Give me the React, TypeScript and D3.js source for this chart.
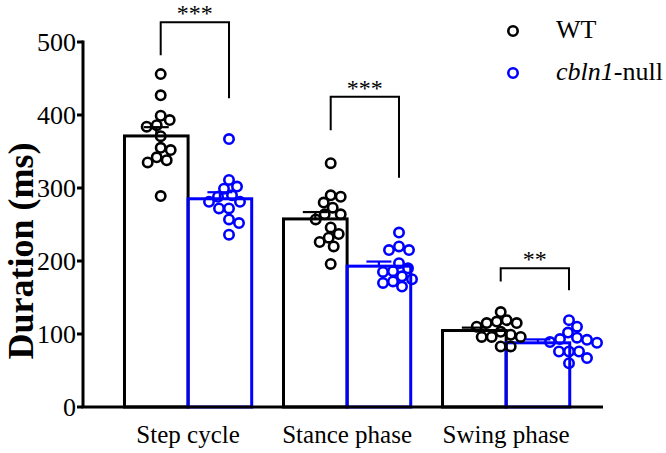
import React from "react";
import * as d3 from "d3";

const categories = ["Step cycle", "Stance phase", "Swing phase"];
const groups = ["WT", "cbln1-null"];
const groupColors = ["#000000", "#0000ff"];

// individual animals (ms)
const wtStep = [456, 427, 399, 393, 386, 384, 371, 355, 352, 342, 338, 335, 289];
const koStep = [367, 311, 302, 299, 290, 288, 281, 281, 272, 272, 257, 252, 236];
const wtStance = [334, 290, 288, 280, 273, 264, 264, 257, 246, 237, 232, 226, 220, 196];
const koStance = [239, 220, 215, 215, 197, 190, 186, 185, 179, 175, 172, 170, 165];
const wtSwing = [130, 119, 117, 115, 115, 110, 103, 99, 96, 96, 96, 83, 83];
const koSwing = [119, 110, 102, 95, 93, 92, 89, 88, 76, 76, 76, 67, 60];

const seriesData = [
  [wtStep, koStep],
  [wtStance, koStance],
  [wtSwing, koSwing],
];

const yTicks = [0, 100, 200, 300, 400, 500];
const sigLabels = ["***", "***", "**"];
const bracketTop = [527, 425, 190];
const bracketLeftEnd = [482, 379, 172];
const bracketRightEnd = [423, 314, 160];

const W = 666;
const H = 453;
const FONT = "'Liberation Serif', 'Times New Roman', serif";

function beeswarm(values: number[], y: (v: number) => number, minDist: number) {
  const order = values.map((v, i) => ({ v, i })).sort((a, b) => b.v - a.v);
  const placed: { x: number; y: number; v: number }[] = [];
  for (const o of order) {
    const py = y(o.v);
    let chosen = 0;
    for (let k = 0; k < 200; k++) {
      const off = k === 0 ? 0 : (k % 2 === 1 ? 1 : -1) * Math.ceil(k / 2);
      const ok = placed.every((p) => Math.hypot(p.x - off, p.y - py) >= minDist);
      if (ok) {
        chosen = off;
        break;
      }
    }
    placed.push({ x: chosen, y: py, v: o.v });
  }
  return placed;
}

export default function App() {
  const y = d3.scaleLinear().domain([0, 500]).range([407, 42]);
  const x0 = d3
    .scaleBand<string>()
    .domain(categories)
    .range([83, 603])
    .paddingInner(0.2)
    .paddingOuter(0.235)
    .align(0.555);
  const x1 = d3.scaleBand<string>().domain(groups).range([0, x0.bandwidth()]);
  const xDot = d3.scalePoint<string>().domain(categories).range([194.85, 534.85]);
  const xDotInner = d3.scalePoint<string>().domain(groups).range([-34.15, 34.15]);

  const axisX = 83;
  const baseY = y(0);

  return (
    <svg
      width={W}
      height={H}
      style={{ position: "absolute", left: 0, top: 0, background: "#fff" }}
      fontFamily={FONT}
    >
      <rect width={W} height={H} fill="#fff" />
      {/* bars */}
      {categories.map((c, ci) =>
        groups.map((g, gi) => {
          const vals = seriesData[ci][gi];
          const m = d3.mean(vals) as number;
          const bx = (x0(c) as number) + (x1(g) as number);
          const bw = x1.bandwidth();
          return (
            <rect
              key={`bar-${ci}-${gi}`}
              x={bx}
              y={y(m)}
              width={bw}
              height={baseY - y(m)}
              fill="none"
              stroke={groupColors[gi]}
              strokeWidth={3}
            />
          );
        })
      )}
      {/* dots */}
      {categories.map((c, ci) =>
        groups.map((g, gi) => {
          const vals = seriesData[ci][gi];
          const cx = (xDot(c) as number) + (xDotInner(g) as number);
          const pts = beeswarm(vals, y, 10);
          return (
            <g key={`dots-${ci}-${gi}`}>
              {pts.map((p, k) => (
                <circle
                  key={k}
                  cx={cx + p.x}
                  cy={p.y}
                  r={4.7}
                  fill="none"
                  stroke={groupColors[gi]}
                  strokeWidth={2.6}
                />
              ))}
            </g>
          );
        })
      )}
      {/* error bars (SEM, upward) */}
      {categories.map((c, ci) =>
        groups.map((g, gi) => {
          const vals = seriesData[ci][gi];
          const m = d3.mean(vals) as number;
          const sem = (d3.deviation(vals) as number) / Math.sqrt(vals.length);
          const cx = (x0(c) as number) + (x1(g) as number) + x1.bandwidth() / 2;
          return (
            <g key={`err-${ci}-${gi}`} stroke={groupColors[gi]} strokeWidth={2.2}>
              <line x1={cx} x2={cx} y1={y(m)} y2={y(m + sem)} />
              <line x1={cx - 12.5} x2={cx + 12.5} y1={y(m + sem)} y2={y(m + sem)} />
            </g>
          );
        })
      )}
      {/* axes */}
      <line x1={axisX} x2={axisX} y1={y(500) - 1.5} y2={baseY} stroke="#000" strokeWidth={3} />
      <line x1={axisX - 1.5} x2={603} y1={baseY} y2={baseY} stroke="#000" strokeWidth={3} />
      {yTicks.map((t) => (
        <g key={t}>
          <line x1={axisX - 6} x2={axisX} y1={y(t)} y2={y(t)} stroke="#000" strokeWidth={3} />
          <text x={axisX - 7} y={y(t)} dy="0.35em" textAnchor="end" fontSize={26} fill="#000">
            {t}
          </text>
        </g>
      ))}
      {categories.map((c) => (
        <text
          key={c}
          x={(x0(c) as number) + x0.bandwidth() / 2}
          y={443}
          textAnchor="middle"
          fontSize={25}
          fill="#000"
        >
          {c}
        </text>
      ))}
      <text
        transform={`translate(33, 251) rotate(-90)`}
        textAnchor="middle"
        fontSize={36}
        fontWeight="bold"
        fill="#000"
      >
        Duration (ms)
      </text>
      {/* significance brackets */}
      {categories.map((c, ci) => {
        const xl = (xDot(c) as number) + (xDotInner(groups[0]) as number);
        const xr = (xDot(c) as number) + (xDotInner(groups[1]) as number);
        const yt = y(bracketTop[ci]);
        return (
          <g key={`sig-${ci}`}>
            <path
              d={`M${xl},${y(bracketLeftEnd[ci])}V${yt}H${xr}V${y(bracketRightEnd[ci])}`}
              fill="none"
              stroke="#000"
              strokeWidth={2}
            />
            <text x={(xl + xr) / 2} y={yt - 1} textAnchor="middle" fontSize={24} fill="#000">
              {sigLabels[ci]}
            </text>
          </g>
        );
      })}
      {/* legend */}
      {groups.map((g, gi) => (
        <g key={`leg-${gi}`} transform={`translate(513, ${31 + gi * 42})`}>
          <circle r={4.7} fill="none" stroke={groupColors[gi]} strokeWidth={2.6} />
          <text x={43} y={7} fontSize={26} fill="#000">
            {gi === 0 ? (
              "WT"
            ) : (
              <>
                <tspan fontStyle="italic">cbln1</tspan>
                <tspan>-null</tspan>
              </>
            )}
          </text>
        </g>
      ))}
    </svg>
  );
}
